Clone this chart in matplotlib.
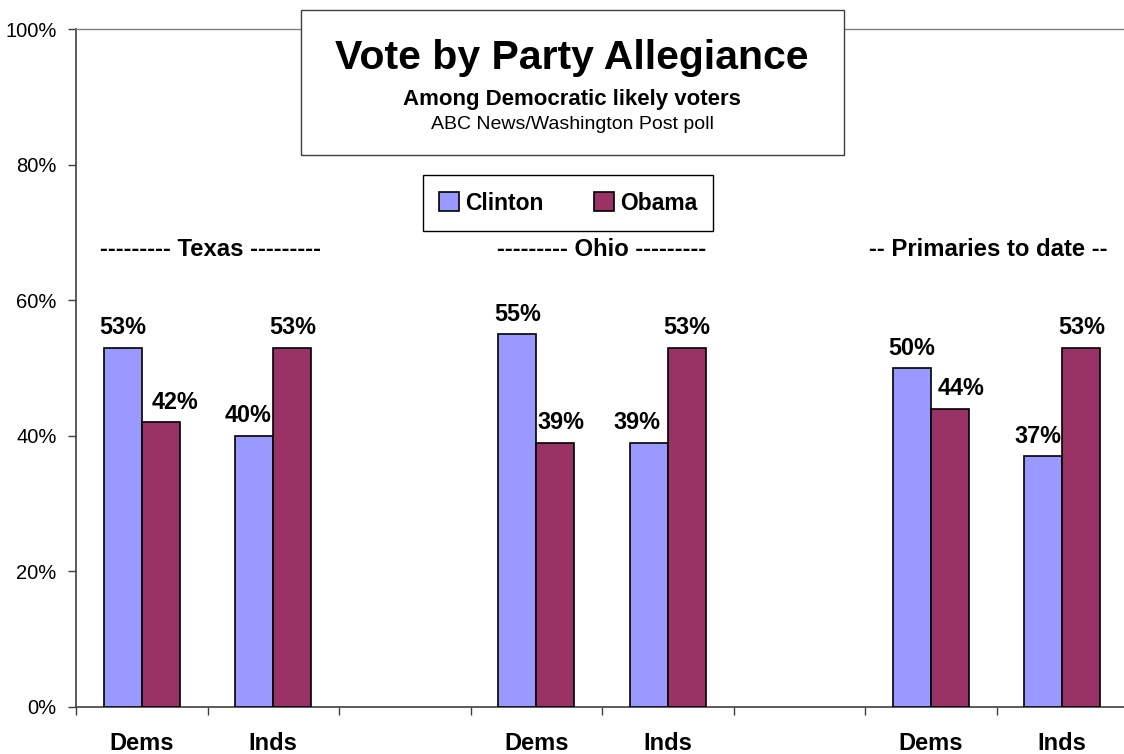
import numpy as np
import matplotlib.pyplot as plt
from matplotlib.patches import Rectangle

plt.rcParams['font.family'] = ['Liberation Sans', 'DejaVu Sans']

# data
states = ['--------- Texas ---------', '--------- Ohio ---------',
          '-- Primaries to date --']
segments = ['Dems', 'Inds']
clinton = [53, 40, 55, 39, 50, 37]
obama = [42, 53, 39, 53, 44, 53]
y_ticks = [0, 20, 40, 60, 80, 100]

# sideways nudges (px) for labels that would collide
clinton_nudge = [0, -6, 0, -12, 0, -5]
obama_nudge = [14, 0, 6, 0, 11, 0]

c_blue = '#9999FF'
c_plum = '#993366'

fig = plt.figure(figsize=(11.24, 7.54), dpi=100)
ax = fig.add_axes([76 / 1124, 1 - 707 / 754, 1052 / 1124, 678 / 754])

xpos = np.array([3 * s + j for s in range(len(states)) for j in range(len(segments))])
w = 0.289
b1 = ax.bar(xpos - w / 2, clinton, w, color=c_blue, edgecolor='black', linewidth=1.2,
            label='Clinton', zorder=3)
b2 = ax.bar(xpos + w / 2, obama, w, color=c_plum, edgecolor='black', linewidth=1.2,
            label='Obama', zorder=3)

pt = 72 / 100
for i, x in enumerate(xpos):
    ax.annotate(f'{clinton[i]}%', (x - w / 2, clinton[i]),
                xytext=(clinton_nudge[i] * pt, 13.5 * pt), textcoords='offset points',
                ha='center', va='baseline', fontsize=16.8, fontweight='bold')
    ax.annotate(f'{obama[i]}%', (x + w / 2, obama[i]),
                xytext=(obama_nudge[i] * pt, 13.5 * pt), textcoords='offset points',
                ha='center', va='baseline', fontsize=16.8, fontweight='bold')

head_nudge = [0.02, 0, -0.06]
for s, name in enumerate(states):
    ax.text(3 * s + 0.5 + head_nudge[s], 66.5, name, ha='center', va='baseline',
            fontsize=17.2, fontweight='bold')

ax.set_xlim(-0.5, 7.5)
ax.set_ylim(0, 100)
ax.set_yticks(y_ticks)
ax.set_yticklabels([f'{v}%' for v in y_ticks])
ax.tick_params(axis='y', length=6, width=1, color='#404040', labelsize=14.5, pad=8)

ax.set_xticks(xpos)
ax.set_xticklabels([segments[j] for s in range(len(states)) for j in range(len(segments))],
                   fontsize=17, fontweight='bold')
ax.set_xticks(np.arange(-0.5, 8.0, 1.0), minor=True)
ax.tick_params(axis='x', which='major', length=0, pad=18)
ax.tick_params(axis='x', which='minor', length=6, width=1, color='#404040')

for side in ['left', 'bottom']:
    ax.spines[side].set_color('#404040')
    ax.spines[side].set_linewidth(1.2)
ax.spines['right'].set_visible(False)
ax.spines['top'].set_color('#808080')
ax.spines['top'].set_linewidth(1)

# title box
fig.patches.append(Rectangle((301 / 1124, 1 - 155 / 754), 543 / 1124, 145 / 754,
                             transform=fig.transFigure, facecolor='white',
                             edgecolor='#404040', linewidth=1, zorder=5))
fig.text(0.509, 1 - 69 / 754, 'Vote by Party Allegiance', ha='center', va='baseline',
         fontsize=29.5, fontweight='bold', zorder=6)
fig.text(0.509, 1 - 105 / 754, 'Among Democratic likely voters', ha='center',
         va='baseline', fontsize=16, fontweight='bold', zorder=6)
fig.text(0.509, 1 - 129 / 754, 'ABC News/Washington Post poll', ha='center',
         va='baseline', fontsize=14, zorder=6)

leg = ax.legend(handles=[b1, b2], ncol=2, loc='center',
                bbox_to_anchor=(568 / 1124, 1 - 203 / 754),
                bbox_transform=fig.transFigure,
                prop={'size': 16.5, 'weight': 'bold'}, fancybox=False,
                edgecolor='black', framealpha=1, handlelength=0.9, handleheight=0.9,
                handletextpad=0.25, columnspacing=2.2, borderpad=0.7)
leg.get_frame().set_linewidth(1)

fig.savefig('out.png', dpi=100)
